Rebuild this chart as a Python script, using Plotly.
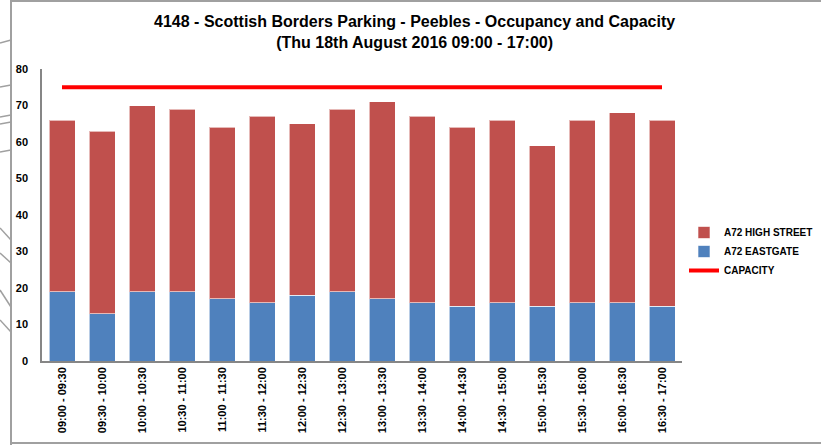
import plotly.graph_objects as go

categories = ["09:00 - 09:30", "09:30 - 10:00", "10:00 - 10:30", "10:30 - 11:00",
              "11:00 - 11:30", "11:30 - 12:00", "12:00 - 12:30", "12:30 - 13:00",
              "13:00 - 13:30", "13:30 - 14:00", "14:00 - 14:30", "14:30 - 15:00",
              "15:00 - 15:30", "15:30 - 16:00", "16:00 - 16:30", "16:30 - 17:00"]
eastgate = [19, 13, 19, 19, 17, 16, 18, 19, 17, 16, 15, 16, 15, 16, 16, 15]
high_street = [47, 50, 51, 50, 47, 51, 47, 50, 54, 51, 49, 50, 44, 50, 52, 51]
capacity = [75] * 16

W, H = 821, 445
L, R, T, B = 42, 682, 69, 361

def px(x):
    return (x - L) / (R - L)

def py(y):
    return (B - y) / (B - T)

FONT = "Liberation Sans Narrow, Arial Narrow, Arial, sans-serif"

fig = go.Figure()
fig.add_trace(go.Bar(x=categories, y=eastgate, name="A72 EASTGATE",
                     marker=dict(color="#4F81BD", line=dict(color="rgba(255,255,255,0.6)", width=1)),
                     legendrank=2))
fig.add_trace(go.Bar(x=categories, y=high_street, name="A72 HIGH STREET",
                     marker=dict(color="#C0504D", line=dict(color="rgba(255,255,255,0.6)", width=1)),
                     legendrank=1))
fig.add_trace(go.Scatter(x=categories, y=capacity, name="CAPACITY", mode="lines",
                         line=dict(color="#FF0000", width=4), legendrank=3))

shapes = []
# outer frame
shapes.append(dict(type="line", xref="paper", yref="paper", x0=px(11), x1=px(821), y0=py(1), y1=py(1),
                   line=dict(color="#A0A0A0", width=2)))
shapes.append(dict(type="line", xref="paper", yref="paper", x0=px(11), x1=px(821), y0=py(443), y1=py(443),
                   line=dict(color="#A0A0A0", width=2)))
shapes.append(dict(type="line", xref="paper", yref="paper", x0=px(11), x1=px(11), y0=py(0), y1=py(445),
                   line=dict(color="#A0A0A0", width=2)))
# background decoration lines on the far left
for (a, b) in [((0, 43), (11, 40)), ((0, 87), (11, 85)), ((0, 117), (11, 115)), ((0, 124), (11, 122)),
               ((0, 152), (11, 150)), ((0, 228), (11, 240)), ((0, 253), (11, 263)), ((0, 290), (11, 307)),
               ((0, 320), (11, 332))]:
    shapes.append(dict(type="line", xref="paper", yref="paper", x0=px(a[0]), y0=py(a[1]),
                       x1=px(b[0]), y1=py(b[1]), line=dict(color="#A0A0A0", width=1.5)))

fig.update_layout(
    width=W, height=H,
    margin=dict(l=L, r=W - R, t=T, b=H - B, pad=0, autoexpand=False),
    barmode="stack", bargap=0.35,
    paper_bgcolor="white", plot_bgcolor="white",
    font=dict(family=FONT, size=11, color="#000000", weight="bold"),
    title=dict(text="4148 - Scottish Borders Parking - Peebles - Occupancy and Capacity<br>(Thu 18th August 2016 09:00 - 17:00)",
               x=0.505, xref="container", xanchor="center", y=1 - 27 / H, yanchor="middle",
               font=dict(family=FONT, size=16, weight="bold")),
    xaxis=dict(type="category", showline=True, linecolor="#868686", linewidth=1.5,
               ticks="", tickangle=-90, tickfont=dict(size=11), showgrid=False,
               range=[-0.5, 15.5], automargin=False),
    yaxis=dict(range=[0, 80], dtick=10, showline=True, linecolor="#868686", linewidth=1.5,
               ticks="", showgrid=False, zeroline=False, tickfont=dict(size=11), ticklabelstandoff=10,
               automargin=False),
    legend=dict(x=px(684), y=py(218), xanchor="left", yanchor="top", traceorder="normal",
                font=dict(size=10, weight="bold"), bgcolor="rgba(0,0,0,0)", itemwidth=30),
    shapes=shapes,
    showlegend=True,
)

fig.write_html("out.html")
